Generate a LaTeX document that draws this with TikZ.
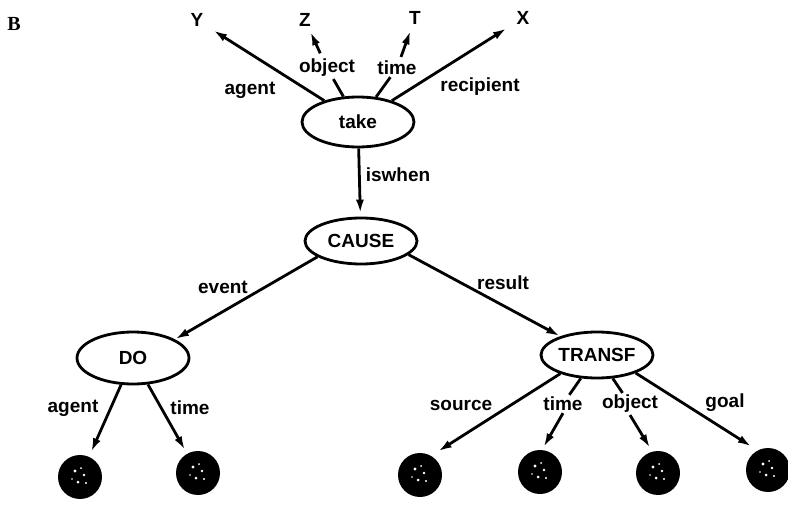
\documentclass[tikz,border=0pt]{standalone}
\usepackage{fontspec}
\setmainfont{Liberation Sans}
\newfontfamily\serifbold{Liberation Serif}
\usetikzlibrary{shapes.geometric,arrows.meta}
\begin{document}
\begin{tikzpicture}[x=1pt,y=-1pt,
  every node/.style={font=\fontsize{19}{21}\selectfont\bfseries, inner sep=2pt},
  concept/.style={ellipse, draw, line width=2.8pt, minimum width=112pt,
                  minimum height=#1, inner sep=0pt},
  concept/.default=48pt,
  blob/.style={circle, fill=black, minimum size=44pt, inner sep=0pt},
  lnk/.style={line width=2.8pt},
  arr/.style={line width=2.8pt, -{Latex[length=14pt,width=8pt]}},
]
\useasboundingbox (0,0) rectangle (788,508);

% panel letter
\node[font=\fontsize{20}{22}\selectfont\serifbold\bfseries] (panel) at (14,24) {B};

% concept nodes
\node[concept=50pt] (take)   at (358,122) {take};
\node[concept=46pt] (cause)  at (361,241) {CAUSE};
\node[concept=52pt] (do)     at (133,358) {DO};
\node[concept=46pt] (transf) at (597,355) {TRANSF};

% role fillers of "take"
\node (Y) at (197,20) {Y};
\node (Z) at (305,20) {Z};
\node (T) at (415,18) {T};
\node (X) at (523,18) {X};

% unfilled slots
\node[blob] (c1) at (80,477) {};
\node[blob] (c2) at (198,473) {};
\node[blob] (c3) at (420,475) {};
\node[blob] (c4) at (540,472) {};
\node[blob] (c5) at (658,473) {};
\node[blob] (c6) at (768,470) {};

% speckles on the slots
\foreach \c in {c1,c2,c3,c4,c5,c6}{
  \fill[white] (\c) ++(-5,-6) circle (1.6);
  \fill[white] (\c) ++(4,-2) circle (1.4);
  \fill[white] (\c) ++(-2,5) circle (1.5);
  \fill[white] (\c) ++(6,6) circle (1.1);
  \fill[white] (\c) ++(1,-9) circle (1.0);
  \fill[white] (\c) ++(-8,2) circle (0.9);
}

% relation labels
\node (lagent)  at (250,90)  {agent};
\node (lobj)    at (327,68)  {object};
\node (ltime)   at (397,68)  {time};
\node (lrecip)  at (480,87)  {recipient};
\node (liswhen) at (398,175) {iswhen};
\node (levent)  at (223,287) {event};
\node (lresult) at (503,283) {result};
\node (ldagent) at (73,408)  {agent};
\node (ldtime)  at (190,408) {time};
\node (lsource) at (461,405) {source};
\node (lttime)  at (563,404) {time};
\node (ltobj)   at (630,404) {object};
\node (lgoal)   at (725,403) {goal};

% take and its roles
\draw[arr, shorten >=9pt] (take) -- (Y);
\draw[lnk] (take) -- (lobj);
\draw[arr, shorten <=4pt, shorten >=3pt] (lobj) -- (Z);
\draw[lnk] (take) -- (ltime);
\draw[arr, shorten <=2pt, shorten >=4pt] (ltime) -- (T);
\draw[arr, shorten >=9pt] (take) -- (X);
\draw[arr, shorten >=3pt] (take) -- (cause);

% CAUSE
\draw[arr] (cause.200) -- (do.24);
\draw[arr] (cause.-16) -- (transf.153);

% DO
\draw[arr, shorten >=5pt] (do) -- (c1);
\draw[arr, shorten >=4pt] (do) -- (c2);

% TRANSF
\draw[arr, shorten >=8pt] (transf.207) -- (c3.60);
\draw[lnk] (transf) -- (lttime);
\draw[arr, shorten >=3pt] (lttime.south) -- (c4.85);
\draw[lnk] (transf) -- (ltobj);
\draw[arr, shorten >=4pt] (ltobj.south) -- (c5.105);
\draw[arr, shorten >=7pt] (transf.-25) -- (c6.118);
\end{tikzpicture}
\end{document}
